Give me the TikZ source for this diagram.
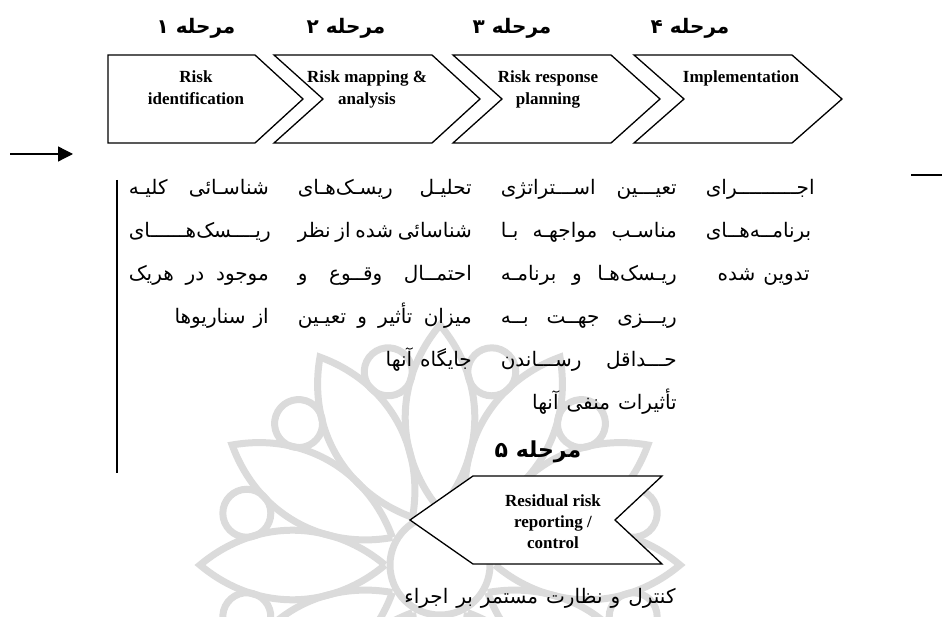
\documentclass[tikz,border=0pt]{standalone}
\usepackage{fontspec}
\setmainfont{Liberation Serif}
\newfontfamily\fa[Script=Arabic]{DejaVu Sans}
\TeXXeTstate=1
\usetikzlibrary{arrows.meta,calc}

% one justified line of a given width
\newcommand{\jl}[2]{\hbox to #1{#2}}
% one right-aligned line of a given width
\newcommand{\rl}[2]{\hbox to #1{\hfill #2}}
% centred lines stacked from the first baseline down
\newcommand{\centrestack}[2]{\vtop{\baselineskip=#1\halign{\hfil##\hfil\cr #2\crcr}}}
% stretchable word spaces for the Persian columns
\newcommand{\fasp}{\spaceskip=0.4em plus 2em minus 0.25em\relax}

\tikzset{
  shape line/.style={draw=black, fill=white, line width=1.3pt, line join=miter},
  rosette/.style={draw=black!14, line width=7pt},
  stage label/.style={inner sep=0pt, anchor=base, font=\fa\bfseries\fontsize{20}{24}\selectfont},
  box text/.style={inner sep=0pt, anchor=base, font=\bfseries\fontsize{17}{21}\selectfont},
  column/.style={inner sep=0pt, anchor=base east, font=\fa\fontsize{20}{43}\selectfont\fasp},
  note/.style={inner sep=0pt, anchor=base, font=\fa\fontsize{20}{24}\selectfont\fasp},
}

\begin{document}
\begin{tikzpicture}[x=1pt, y=-1pt]
\useasboundingbox (0,0) rectangle (942,617);

% faint rosette ornament in the background
\begin{scope}
  \clip (0,300) rectangle (942,617);
  \coordinate (rc) at (440,565);
  \foreach \a in {0,30,...,330}{
    \begin{scope}[shift={(rc)}, rotate=\a]
      \draw[rosette] (55,0) to[bend left=40] (240,0) to[bend left=40] (55,0);
      \draw[rosette] (15:200) circle[radius=24];
    \end{scope}}
  \draw[rosette] (rc) circle[radius=50];
\end{scope}

% stage chevrons
\draw[shape line] (108,55) -- (255,55) -- (303,99) -- (255,143) -- (108,143) -- cycle;
\draw[shape line] (274,55) -- (432,55) -- (480,99) -- (432,143) -- (274,143) -- (323,99) -- cycle;
\draw[shape line] (453,55) -- (611,55) -- (660,99) -- (611,143) -- (453,143) -- (502,99) -- cycle;
\draw[shape line] (634,55) -- (792,55) -- (842,99) -- (792,143) -- (634,143) -- (684,99) -- cycle;
\draw[shape line] (473,476) -- (662,476) -- (615,520) -- (662,564) -- (473,564) -- (410,520) -- cycle;

% stage numbers
\node[stage label] (m1) at (196,34) {\beginR مرحله ۱\endR};
\node[stage label] (m2) at (346,34) {\beginR مرحله ۲\endR};
\node[stage label] (m3) at (512,34) {\beginR مرحله ۳\endR};
\node[stage label] (m4) at (690,34) {\beginR مرحله ۴\endR};
\node[stage label, font=\fa\bfseries\fontsize{22}{26}\selectfont] (m5) at (538,457) {\beginR مرحله ۵\endR};

% chevron captions
\node[box text] (t1) at (196,83) {\centrestack{22pt}{Risk\cr identification}};
\node[box text] (t2) at (367,83) {\centrestack{22pt}{Risk mapping \&\cr analysis}};
\node[box text] (t3) at (548,83) {\centrestack{22pt}{Risk response\cr planning}};
\node[box text] (t4) at (741,83) {Implementation};
\node[box text] (t5) at (553,506) {\centrestack{21pt}{Residual risk\cr reporting /\cr control}};

% side marks
\coordinate (arrS) at (10,154);
\coordinate (arrE) at (73,154);
\draw[line width=1.3pt, -{Triangle[length=15pt,width=15pt]}] (arrS) -- (arrE);
\coordinate (rS) at (911,175);
\coordinate (rE) at (942,175);
\draw[line width=1.3pt] (rS) -- (rE);
\coordinate (bT) at (117,180);
\coordinate (bB) at (117,473);
\draw[line width=1.5pt] (bT) -- (bB);

% stage descriptions
\node[column] (d1) at (269,195) {\vtop{\baselineskip=43pt
  \jl{140pt}{\beginR شناسـائی کلیـه\endR}
  \jl{140pt}{\beginR ریــــسک‌هــــــای\endR}
  \jl{140pt}{\beginR موجود در هریک\endR}
  \rl{140pt}{\beginR از سناریوها\endR}}};
\node[column] (d2) at (472,195) {\vtop{\baselineskip=43pt
  \jl{174pt}{\beginR تحلیـل ریسـک‌هـای\endR}
  \jl{174pt}{\beginR شناسائی شده از نظر\endR}
  \jl{174pt}{\beginR احتمــال وقــوع و\endR}
  \jl{174pt}{\beginR میزان تأثیر و تعیـین\endR}
  \rl{174pt}{\beginR جایگاه آنها\endR}}};
\node[column] (d3) at (677,195) {\vtop{\baselineskip=43pt
  \jl{176pt}{\beginR تعیـــین اســـتراتژی\endR}
  \jl{176pt}{\beginR مناسـب مواجهـه بـا\endR}
  \jl{176pt}{\beginR ریـسک‌هـا و برنامـه\endR}
  \jl{176pt}{\beginR ریـــزی جهــت بــه\endR}
  \jl{176pt}{\beginR حـــداقل رســـاندن\endR}
  \rl{176pt}{\beginR تأثیرات منفی آنها\endR}}};
\node[column] (d4) at (810,195) {\vtop{\baselineskip=43pt
  \rl{104pt}{\beginR اجــــــــــرای\endR}
  \rl{104pt}{\beginR برنامــه‌هــای\endR}
  \rl{104pt}{\beginR تدوین شده\endR}}};

\node[note] (ctl) at (540,603) {\beginR کنترل و نظارت مستمر بر اجراء\endR};
\end{tikzpicture}
\end{document}
